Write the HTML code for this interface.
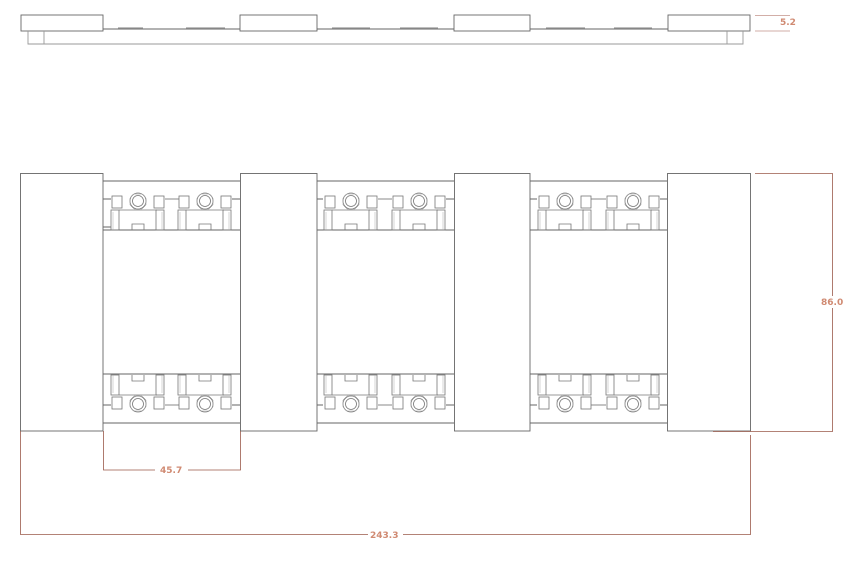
<!DOCTYPE html>
<html><head><meta charset="utf-8"><style>
html,body{margin:0;padding:0;background:#fff;}
svg{display:block;}
text{font-family:"DejaVu Sans","Liberation Sans",sans-serif;font-size:9px;font-weight:bold;fill:#d08a72;}
</style></head><body>
<svg width="867" height="567" viewBox="0 0 867 567" xmlns="http://www.w3.org/2000/svg">
<defs>
<g id="u" fill="none" stroke="#777" stroke-width="0.8">
  <rect x="-26" y="196" width="10" height="12"/>
  <rect x="16" y="196" width="10" height="12"/>
  <circle cx="0" cy="201" r="8"/>
  <circle cx="0" cy="201" r="5.5"/>
  <path d="M-4,194 L4,194 L8,198 L8,205 L4,209 L-4,209 L-8,205 L-8,198 Z" stroke="#999" stroke-width="0.5"/>
  <rect x="-27" y="210" width="8" height="20"/>
  <rect x="18" y="210" width="8" height="20"/>
  <path d="M-19,210 L19,210"/>
  <path d="M-6,230 L-6,224 L6,224 L6,230"/>
  <path d="M-25,212 L-25,230 M24,212 L24,230" stroke="#aaa" stroke-width="0.5"/>
</g>
</defs>
<g fill="none" stroke="#666" stroke-width="0.9">
  <!-- top view -->
  <rect x="21" y="15" width="82" height="16"/>
  <rect x="240" y="15" width="77" height="16"/>
  <rect x="454" y="15" width="76" height="16"/>
  <rect x="668" y="15" width="82" height="16"/>
  <path d="M103,29 L240,29 M317,29 L454,29 M530,29 L668,29"/>
  <path d="M118,28 L143,28 M186,28 L225,28 M332,28 L370,28 M400,28 L438,28 M546,28 L585,28 M614,28 L652,28" stroke="#999" stroke-width="1.2"/>
  <path d="M28,31 L28,44 L743,44 L743,31 M44,31 L44,44 M727,31 L727,44" stroke="#999"/>
  <!-- plan view blocks -->
  <rect x="20.5" y="173.5" width="82.5" height="257.5"/>
  <rect x="240.5" y="173.5" width="76.5" height="257.5"/>
  <rect x="454.5" y="173.5" width="75.5" height="257.5"/>
  <rect x="667.5" y="173.5" width="83" height="257.5"/>
  <path d="M103,181 L240,181 M317,181 L454,181 M530,181 L667,181 M103,423 L240,423 M317,423 L454,423 M530,423 L667,423"/>
  <!-- connector bands -->
  <path d="M103,199 L111,199 M103,230 L240,230 M232,199 L240,199 M103,227 L111,227 M317,199 L323,199 M317,230 L454,230 M446,199 L454,199 M530,199 L537,199 M530,230 L667,230 M660,199 L667,199"/>
  <path d="M103,405 L111,405 M103,374 L240,374 M232,405 L240,405 M317,405 L323,405 M317,374 L454,374 M446,405 L454,405 M530,405 L537,405 M530,374 L667,374 M660,405 L667,405"/>
  <path d="M165,199 L179,199 M378,199 L392,199 M591,199 L606,199 M165,405 L179,405 M378,405 L392,405 M591,405 L606,405" stroke="#888"/>
</g>
<use href="#u" x="138"/><use href="#u" x="205"/>
<use href="#u" x="351"/><use href="#u" x="419"/>
<use href="#u" x="565"/><use href="#u" x="633"/>
<g transform="translate(0,605) scale(1,-1)">
<use href="#u" x="138"/><use href="#u" x="205"/>
<use href="#u" x="351"/><use href="#u" x="419"/>
<use href="#u" x="565"/><use href="#u" x="633"/>
</g>
<!-- dimensions -->
<g fill="none" stroke="#9a5a4a" stroke-width="0.8">
  <path d="M755,15.5 L790,15.5 M755,31 L790,31" stroke="#c4948a"/>
  <path d="M755,173.5 L832.5,173.5 L832.5,296 M832.5,308 L832.5,431.5 L713,431.5"/>
  <path d="M103.5,431 L103.5,470 L155,470 M188,470 L240.5,470 L240.5,431"/>
  <path d="M20.5,431 L20.5,534.5 L368,534.5 M403,534.5 L750.5,534.5 L750.5,435"/>
</g>
<text x="780" y="25">5.2</text>
<text x="821" y="305">86.0</text>
<text x="160" y="473">45.7</text>
<text x="370" y="538">243.3</text>
</svg>
</body></html>
